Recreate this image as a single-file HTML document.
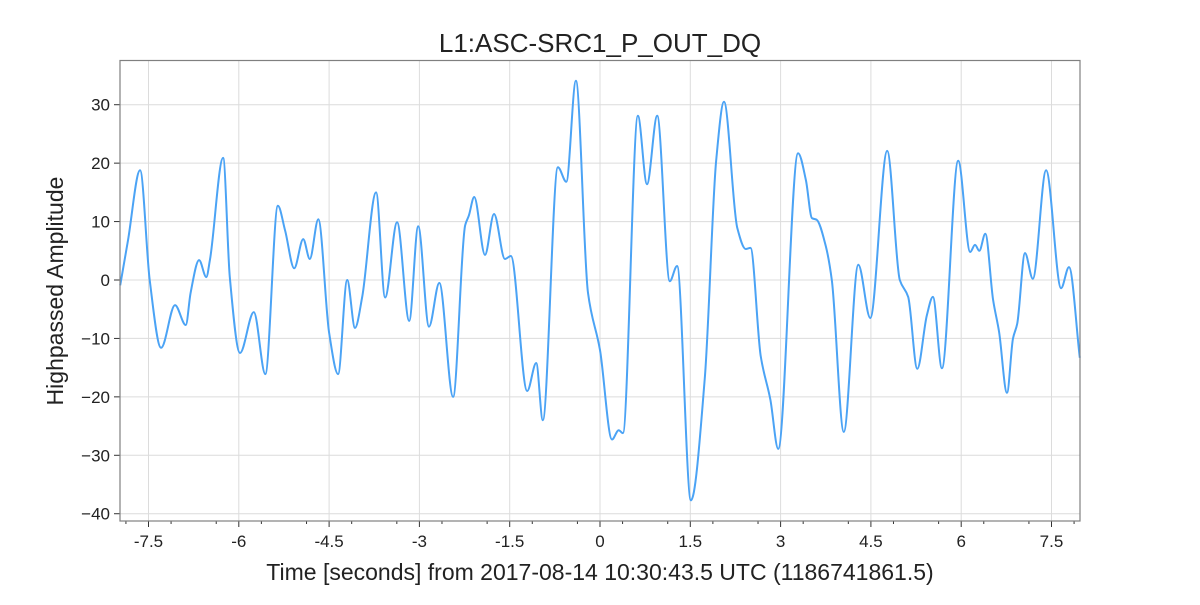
<!DOCTYPE html>
<html><head><meta charset="utf-8"><style>
body{margin:0;background:#fff}
svg text{font-family:"Liberation Sans",sans-serif;fill:#222}
</style></head><body>
<svg id="chart" width="1200" height="600" viewBox="0 0 1200 600" xmlns="http://www.w3.org/2000/svg">
<rect width="1200" height="600" fill="#fff"/>
<g id="grid"></g>
<g id="axes"></g>
<path id="line" fill="none" stroke="#4ba3f5" stroke-width="2"/>
<rect x="120" y="60.5" width="960" height="460.5" fill="none" stroke="#808080" stroke-width="1.2"/>
<text x="600" y="52" text-anchor="middle" font-size="26">L1:ASC-SRC1_P_OUT_DQ</text>
<text x="600" y="580" text-anchor="middle" font-size="23">Time [seconds] from 2017-08-14 10:30:43.5 UTC (1186741861.5)</text>
<text transform="translate(63,291) rotate(-90)" text-anchor="middle" font-size="23">Highpassed Amplitude</text>
</svg>
<script>
const times=[-7.97,-7.84,-7.64,-7.48,-7.29,-7.06,-6.88,-6.80,-6.66,-6.54,-6.48,-6.26,-6.15,-5.98,-5.75,-5.56,-5.35,-5.23,-5.08,-4.93,-4.82,-4.68,-4.50,-4.35,-4.20,-4.07,-3.95,-3.72,-3.57,-3.37,-3.17,-3.02,-2.84,-2.67,-2.44,-2.24,-2.18,-2.09,-1.91,-1.76,-1.58,-1.48,-1.21,-1.06,-0.95,-0.70,-0.56,-0.40,-0.20,0.00,0.20,0.31,0.38,0.63,0.78,0.95,1.16,1.28,1.51,1.74,1.93,2.06,2.28,2.42,2.50,2.67,2.83,2.96,3.29,3.42,3.52,3.60,3.75,3.85,4.05,4.29,4.49,4.77,4.98,5.12,5.27,5.43,5.53,5.68,5.95,6.15,6.23,6.30,6.40,6.53,6.63,6.76,6.86,6.93,7.06,7.19,7.41,7.66,7.79,7.97];
const values=[-0.9,6.8,18.8,0,-11.6,-4.3,-7.7,-2.2,3.4,0.5,3.4,20.9,0.5,-12.5,-5.5,-16.1,12.7,8.4,2.0,7.0,3.6,10.4,-9.0,-16.1,0,-8.2,-2.9,15.0,-3.0,9.9,-7.0,9.2,-8.0,-0.5,-20.0,9.4,11.0,14.2,4.3,11.3,3.6,4.1,-19.0,-14.2,-24.0,19.3,16.8,34.1,-2.2,-12.0,-27.3,-25.7,-26.2,28.1,16.4,28.1,-0.2,2.4,-37.7,-17.0,20.5,30.5,8.9,5.3,5.5,-13.0,-20.5,-28.9,21.7,17.1,10.6,10.3,5.8,0,-26.0,2.6,-6.5,22.1,0,-2.9,-15.2,-6.0,-2.9,-15.1,20.4,4.8,6.0,5.0,7.9,-3.4,-8.9,-19.3,-10.0,-7.5,4.6,0.2,18.8,-1.4,2.2,-13.3];
const xTicks=[-7.5,-6,-4.5,-3,-1.5,0,1.5,3,4.5,6,7.5];
const xTickLabels=["-7.5","-6","-4.5","-3","-1.5","0","1.5","3","4.5","6","7.5"];
const yTicks=[-40,-30,-20,-10,0,10,20,30];
const yTickLabels=["\u221240","\u221230","\u221220","\u221210","0","10","20","30"];
const X=t=>600+t*60.2;
const Y=v=>280-v*5.843;
const NS="http://www.w3.org/2000/svg";
const grid=document.getElementById('grid'),axes=document.getElementById('axes');
function mk(tag,attrs,parent){const e=document.createElementNS(NS,tag);for(const k in attrs)e.setAttribute(k,attrs[k]);parent.appendChild(e);return e;}
xTicks.forEach((t,i)=>{
  const g=mk('line',{x1:X(t),x2:X(t),y1:60,y2:521,stroke:'#dcdcdc','stroke-width':1},grid);
  
  
  const tk=mk('line',{x1:X(t),x2:X(t),y1:521,y2:527,stroke:'#333','stroke-width':1},axes);
  
  
  const tx=mk('text',{x:X(t),y:547,'text-anchor':'middle','font-size':17},axes);
  tx.textContent=xTickLabels[i];
  
  
});
for(let t=-7.875;t<8;t+=0.75){
  const m=mk('line',{x1:X(t),x2:X(t),y1:521,y2:524,stroke:'#333','stroke-width':1},axes);
  
  
}
yTicks.forEach((v,i)=>{
  const g=mk('line',{x1:120,x2:1080,y1:Y(v),y2:Y(v),stroke:'#dcdcdc','stroke-width':1},grid);
  
  
  const tk=mk('line',{x1:114,x2:120,y1:Y(v),y2:Y(v),stroke:'#333','stroke-width':1},axes);
  
  
  const tx=mk('text',{x:110,y:Y(v)+6,'text-anchor':'end','font-size':17},axes);
  tx.textContent=yTickLabels[i];
  
  
});
// monotone cubic (Fritsch-Carlson) to avoid overshoot
const px=times.map(X), py=values.map(Y), n=px.length;
const dx=[],sec=[];
for(let i=0;i<n-1;i++){dx.push(px[i+1]-px[i]);sec.push((py[i+1]-py[i])/dx[i]);}
const m=new Array(n);
m[0]=sec[0];m[n-1]=sec[n-2];
for(let i=1;i<n-1;i++){
  if(sec[i-1]*sec[i]<=0)m[i]=0;
  else{const w1=2*dx[i]+dx[i-1],w2=dx[i]+2*dx[i-1];m[i]=(w1+w2)/(w1/sec[i-1]+w2/sec[i]);}
}
let d='M'+px[0].toFixed(1)+','+py[0].toFixed(1);
for(let i=0;i<n-1;i++){
  const h=dx[i]/3;
  d+=' C'+(px[i]+h).toFixed(1)+','+(py[i]+m[i]*h).toFixed(1)+' '+(px[i+1]-h).toFixed(1)+','+(py[i+1]-m[i+1]*h).toFixed(1)+' '+px[i+1].toFixed(1)+','+py[i+1].toFixed(1);
}
document.getElementById('line').setAttribute('d',d);
</script>
</body></html>
